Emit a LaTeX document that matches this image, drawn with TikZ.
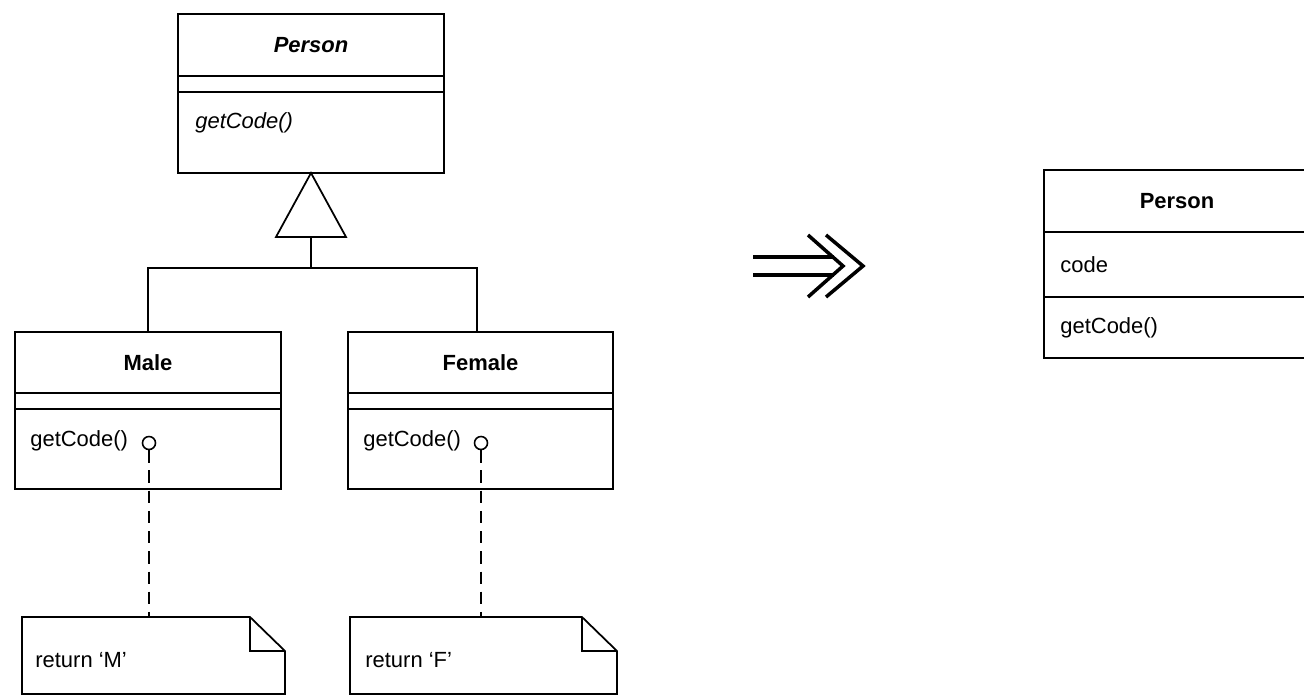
\documentclass[tikz,border=0pt]{standalone}
\usepackage{fontspec}
\setmainfont{Liberation Sans}
\usetikzlibrary{positioning}
\newcommand\umlfont{\fontsize{12.5}{15}\selectfont}

\begin{document}
\begin{tikzpicture}[
  x=0.02cm, y=-0.02cm,
  font=\umlfont,
  comp/.style={draw, line width=1pt, inner sep=0pt, outer sep=0pt, minimum width=5.32cm},
  clsname/.style={font=\umlfont\bfseries},
  optext/.style={anchor=west, inner sep=0pt, font=\umlfont},
  hook/.style={draw, circle, line width=0.9pt, minimum size=0.26cm, inner sep=0pt, fill=white},
  notebox/.style={minimum width=5.26cm, minimum height=1.54cm, inner sep=0pt, outer sep=0pt},
  link/.style={line width=0.9pt, dash pattern=on 7pt off 4.5pt},
  rel/.style={line width=1pt},
  refac/.style={line width=2pt, line join=miter},
]
  \useasboundingbox (0,0) rectangle (1304,696);
  \clip (0,0) rectangle (1304,696);

  % Superclass with subclasses
  \node[comp, minimum height=1.24cm, font=\umlfont\bfseries\itshape] (pers-name) at (311,45) {Person};
  \node[comp, minimum height=0.32cm, below=0pt of pers-name] (pers-attr) {};
  \node[comp, minimum height=1.62cm, below=0pt of pers-attr] (pers-ops) {};
  \node[optext, font=\umlfont\itshape] (pers-get) at (195,123) {getCode()};

  \node[comp, clsname, minimum height=1.22cm] (male-name) at (148,362.5) {Male};
  \node[comp, minimum height=0.32cm, below=0pt of male-name] (male-attr) {};
  \node[comp, minimum height=1.6cm, below=0pt of male-attr] (male-ops) {};
  \node[optext] (male-get) at (30,441) {getCode()};
  \node[hook] (male-hook) at (149,443) {};

  \node[comp, clsname, minimum height=1.22cm, minimum width=5.3cm] (fem-name) at (480.5,362.5) {Female};
  \node[comp, minimum height=0.32cm, minimum width=5.3cm, below=0pt of fem-name] (fem-attr) {};
  \node[comp, minimum height=1.6cm, minimum width=5.3cm, below=0pt of fem-attr] (fem-ops) {};
  \node[optext] (fem-get) at (363,441) {getCode()};
  \node[hook] (fem-hook) at (481,443) {};

  % Notes
  \node[notebox] (male-note) at (153.5,655.5) {};
  \node[optext] (male-ret) at (35,660) {return `M'};
  \node[notebox, minimum width=5.34cm] (fem-note) at (483.5,655.5) {};
  \node[optext] (fem-ret) at (365,660) {return `F'};
  \foreach \n in {male-note,fem-note} {
    \draw[rel] (\n.north west) -- ([xshift=-0.7cm]\n.north east)
      -- ([yshift=-0.68cm]\n.north east) -- (\n.south east) -- (\n.south west) -- cycle;
    \draw[rel] ([xshift=-0.7cm]\n.north east) |- ([yshift=-0.68cm]\n.north east);
  }

  % Generalization
  \coordinate (tri-base) at ([yshift=-1.28cm]pers-ops.south);
  \draw[rel] (pers-ops.south) -- ([xshift=-0.7cm]tri-base) -- ([xshift=0.7cm]tri-base) -- cycle;
  \draw[rel] (tri-base) -- ++(0,31) coordinate (fork);
  \draw[rel] (fork) -| (male-name.north);
  \draw[rel] (fork) -| ([xshift=-0.07cm]fem-name.north);

  % Notes attached to operations
  \draw[link] (male-hook.south) -- (male-hook.south |- male-note.north);
  \draw[link] (fem-hook.south) -- (fem-hook.south |- fem-note.north);

  % Refactoring arrow
  \draw[refac] (753,257) -- (834,257) (753,275) -- (834,275);
  \draw[refac] (808,235) -- (843,266) -- (808,297);
  \draw[refac] (826,235) -- (863,266) -- (826,297);

  % Result
  \node[comp, clsname, minimum height=1.24cm] (flat-name) at (1177,201) {Person};
  \node[comp, minimum height=1.3cm, below=0pt of flat-name] (flat-attr) {};
  \node[comp, minimum height=1.22cm, below=0pt of flat-attr] (flat-ops) {};
  \node[optext] (flat-code) at (1060,265) {code};
  \node[optext] (flat-get) at (1060,328) {getCode()};
\end{tikzpicture}
\end{document}
